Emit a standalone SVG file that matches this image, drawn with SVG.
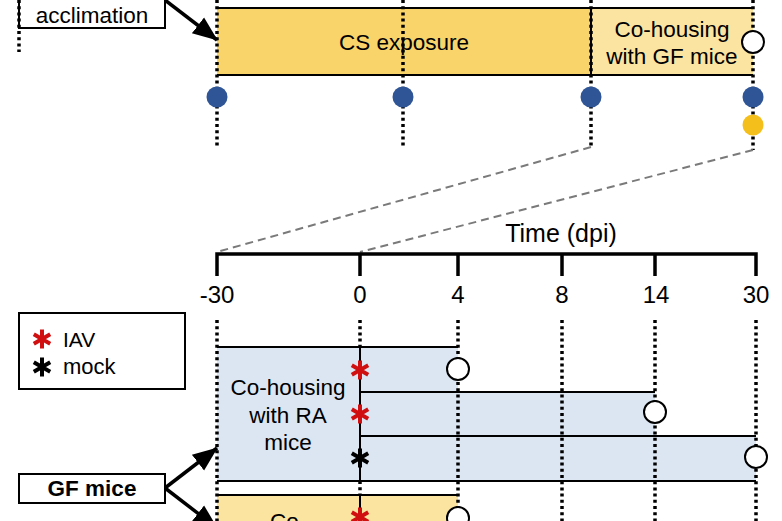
<svg xmlns="http://www.w3.org/2000/svg" width="782" height="521" viewBox="0 0 782 521">
<defs>
<marker id="ah" markerUnits="userSpaceOnUse" markerWidth="26" markerHeight="26" viewBox="0 0 26 26" refX="24" refY="13" orient="auto">
<path d="M0,3 L25,13 L0,23 Z" fill="#000"/>
</marker>
<g id="ast">
<path d="M0,-9.5 V9.5 M-8.2,-4.75 L8.2,4.75 M-8.2,4.75 L8.2,-4.75" stroke-width="4" stroke-linecap="butt"/>
</g>
</defs>
<style>
text{font-family:"Liberation Sans",Arial,sans-serif;fill:#000}
.lbl{font-size:22.5px;text-anchor:middle}
.tick{font-size:24px;text-anchor:middle}
.dot{stroke:#000;stroke-width:3.5;stroke-dasharray:3 3.2;fill:none}
.sol{stroke:#000;stroke-width:2;fill:none}
.axis{stroke:#000;stroke-width:3.5;fill:none}
.dash{stroke:#7a7a7a;stroke-width:2;stroke-dasharray:8 5;fill:none}
.oc{fill:#fff;stroke:#000;stroke-width:2}
.blue{fill:#2F5597}
.ylw{fill:#F5BF1B}
.arr{stroke:#000;stroke-width:3.5;fill:none;marker-end:url(#ah)}
</style>

<!-- top timeline -->
<g id="cs-exposure">
<rect x="217" y="8" width="374" height="67" fill="#F8D46B"/>
<text class="lbl" x="404" y="50">CS exposure</text>
</g>
<g id="cohousing-gf">
<rect x="591" y="8" width="162" height="67" fill="#FBE3A2"/>
<text class="lbl" x="672" y="37">Co-housing</text>
<text class="lbl" x="672" y="64">with GF mice</text>
</g>

<g id="acclimation">
<rect x="19" y="-10" width="146" height="38" fill="#fff" class="sol"/>
<text class="lbl" x="92" y="23">acclimation</text>
</g>

<g id="gf-mice">
<rect x="19" y="474" width="146" height="29" fill="#fff" class="sol"/>
<text class="lbl" x="92" y="496" font-weight="bold">GF mice</text>
</g>

<g id="legend">
<rect x="19" y="313" width="166" height="76" fill="#fff" class="sol"/>
<use href="#ast" x="42" y="339" stroke="#D01010"/>
<text x="63" y="347" font-size="21">IAV</text>
<use href="#ast" x="42" y="367" stroke="#000"/>
<text x="63" y="374" font-size="22">mock</text>
</g>

<!-- bottom groups -->
<g id="ra-cohousing">
<path d="M217,347 H458 V392 H655 V436 H756 V481 H217 Z" fill="#DCE6F2"/>
<text class="lbl" x="288" y="395">Co-housing</text>
<text class="lbl" x="288" y="423">with RA</text>
<text class="lbl" x="288" y="450">mice</text>
</g>
<g id="gf-cohousing2">
<rect x="217" y="495" width="241" height="40" fill="#FBE3A0"/>
<text x="270" y="529" font-size="22.5">Co-</text>
</g>

<g id="connectors">
<line class="dot" x1="19" y1="0" x2="19" y2="52"/>
<line class="dot" x1="217" y1="0" x2="217" y2="148"/>
<line class="dot" x1="403" y1="0" x2="403" y2="148"/>
<line class="dot" x1="591" y1="0" x2="591" y2="147"/>
<line class="dot" x1="753" y1="0" x2="753" y2="150"/>
<line class="sol" x1="217" y1="8" x2="753" y2="8"/>
<line class="sol" x1="217" y1="75" x2="753" y2="75"/>
<line class="sol" x1="591" y1="8" x2="591" y2="75"/>
<line class="dash" x1="591" y1="147" x2="217" y2="252"/>
<line class="dash" x1="753" y1="150" x2="360" y2="252"/>
<path class="axis" d="M217,276 V254 H756 V276 M360,254 V276 M458,254 V276 M562,254 V276 M655,254 V276"/>
<line class="dot" x1="217" y1="320" x2="217" y2="521"/>
<line class="dot" x1="360" y1="320" x2="360" y2="347"/>
<line class="dot" x1="360" y1="481" x2="360" y2="495"/>
<line class="dot" x1="458" y1="320" x2="458" y2="521"/>
<line class="dot" x1="562" y1="320" x2="562" y2="521"/>
<line class="dot" x1="655" y1="320" x2="655" y2="521"/>
<line class="dot" x1="756" y1="320" x2="756" y2="521"/>
<line class="sol" x1="217" y1="347" x2="458" y2="347"/>
<line class="sol" x1="360" y1="392" x2="655" y2="392"/>
<line class="sol" x1="360" y1="436" x2="756" y2="436"/>
<line class="sol" x1="217" y1="481" x2="756" y2="481"/>
<line class="sol" x1="360" y1="347" x2="360" y2="481"/>
<line class="sol" x1="217" y1="495" x2="458" y2="495"/>
<line class="sol" x1="360" y1="495" x2="360" y2="521"/>
<line class="arr" x1="165" y1="0" x2="217" y2="40"/>
<line class="arr" x1="165" y1="488" x2="217" y2="448"/>
<line class="arr" x1="165" y1="488" x2="217" y2="528"/>
</g>

<g id="axis-labels">
<text x="561" y="242" font-size="25" text-anchor="middle">Time (dpi)</text>
<text class="tick" x="217" y="303">-30</text>
<text class="tick" x="360" y="303">0</text>
<text class="tick" x="458" y="303">4</text>
<text class="tick" x="562" y="303">8</text>
<text class="tick" x="656" y="303">14</text>
<text class="tick" x="756" y="303">30</text>
</g>

<g id="markers">
<circle class="oc" cx="753" cy="42" r="11"/>
<circle class="blue" cx="217" cy="97" r="10.5"/>
<circle class="blue" cx="403" cy="97" r="10.5"/>
<circle class="blue" cx="591" cy="97" r="10.5"/>
<circle class="blue" cx="753" cy="97" r="10.5"/>
<circle class="ylw" cx="753" cy="125" r="10.5"/>
<circle class="oc" cx="458" cy="369" r="11"/>
<circle class="oc" cx="655" cy="412" r="11"/>
<circle class="oc" cx="756" cy="457" r="11"/>
<circle class="oc" cx="458" cy="518" r="11"/>
<use href="#ast" x="360" y="370" stroke="#D01010"/>
<use href="#ast" x="360" y="414" stroke="#D01010"/>
<use href="#ast" x="360" y="458" stroke="#000"/>
<use href="#ast" x="360" y="517" stroke="#D01010"/>
</g>
</svg>
